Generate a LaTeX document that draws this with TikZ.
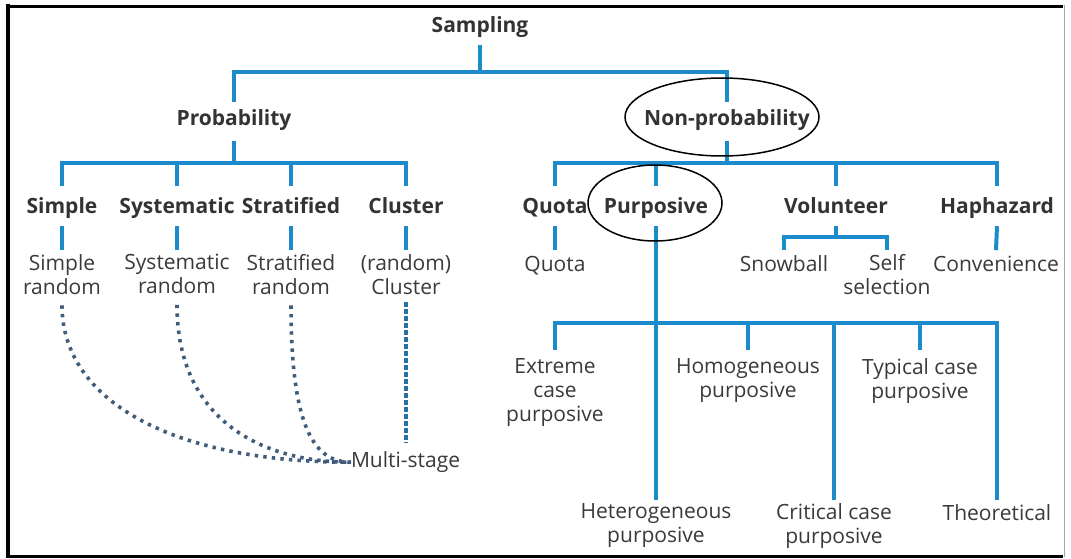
\documentclass[tikz,border=0pt]{standalone}
\usepackage{fontspec}
\setmainfont{Open Sans}
\usetikzlibrary{calc,shapes.geometric}
\definecolor{treeblue}{RGB}{28,139,204}
\definecolor{inkgray}{RGB}{58,58,58}
\definecolor{dotblue}{RGB}{64,92,122}
\definecolor{clusterblue}{RGB}{40,112,165}
\begin{document}
\begin{tikzpicture}[x=1pt,y=-1pt,
  txt/.style={inner sep=0pt, outer sep=0pt, text=inkgray, align=center,
    font=\fontsize{21}{24}\selectfont,
    execute at begin node=\strut, execute at end node=\strut},
  hd/.style={txt, font=\fontsize{21}{24}\selectfont\bfseries, text=black!80},
  oneline/.style={anchor=base},
  twoline/.style={anchor=north},
  tree/.style={draw=treeblue, line width=4pt, line join=miter},
  dotline/.style={draw=dotblue, line width=3.6pt, dash pattern=on 3.4pt off 5.2pt},
  clusterline/.style={draw=clusterblue, line width=4pt, dash pattern=on 4.5pt off 2.5pt},
  ring/.style={draw=black, line width=1.5pt, ellipse, inner sep=0pt}
]
% canvas and frame
\useasboundingbox (0,0) rectangle (1071,559);
\fill[white] (0,0) rectangle (1071,559);
\draw[black, line width=4pt] (8,4.5) -- (8,557.5);
\draw[black, line width=3pt] (6,6.5) -- (1063,6.5);
\draw[black, line width=3pt] (6,556) -- (1063,556);
\draw[black!35, line width=1pt] (1064,5) -- (1064,557);

% bar levels of the tree
\coordinate (bar1) at (0,72.5);
\coordinate (bar2) at (0,163);
\coordinate (bar3) at (0,237);
\coordinate (bar4) at (0,323);

% headings
\node[hd,oneline] (samp)    at (480,33)  {Sampling};
\node[hd,oneline] (prob)    at (234,126) {Probability};
\node[hd,oneline] (nonprob) at (727,126) {Non-probability};

\node[hd,oneline] (simple) at (62,213)  {Simple};
\node[hd,oneline] (syst)   at (177,213) {Systematic};
\node[hd,oneline] (strat)  at (291,213) {Stratified};
\node[hd,oneline] (clus)   at (406,213) {Cluster};

\node[hd,oneline] (quota) at (555,213) {Quota};
\node[hd,oneline] (purp)  at (656,213) {Purposive};
\node[hd,oneline] (vol)   at (836,213) {Volunteer};
\node[hd,oneline] (hap)   at (997,213) {Haphazard};

% sampling methods
\node[txt,twoline] (sr)   at (62,254.2)  {Simple\\random};
\node[txt,twoline] (sysr) at (177,254.2) {Systematic\\random};
\node[txt,twoline] (strr) at (291,254.2) {Stratified\\random};
\node[txt,twoline] (clr)  at (406,254.2) {(random)\\Cluster};

\node[txt,oneline] (quota2) at (555,271) {Quota};
\node[txt,oneline] (snow)   at (784,271) {Snowball};
\node[txt,twoline] (self)   at (887,254.2) {Self\\selection};
\node[txt,oneline] (conv)   at (996,271) {Convenience};

\node[txt,twoline] (ext)  at (555,358.2) {Extreme\\case\\purposive};
\node[txt,twoline] (homo) at (748,358.2) {Homogeneous\\purposive};
\node[txt,twoline] (typ)  at (920,358.2) {Typical case\\purposive};

\node[txt,twoline] (het)  at (656,503.2) {Heterogeneous\\purposive};
\node[txt,twoline] (crit) at (834,503.2) {Critical case\\purposive};
\node[txt,oneline] (theo) at (997,520)   {Theoretical};

\node[txt,anchor=base west] (ms) at (351,467) {Multi-stage};

% top levels
\draw[tree] ([yshift=-5pt]samp.south) -- (samp.south |- bar1);
\draw[tree] ([yshift=7pt]prob.north) |- (nonprob.north |- bar1) -- ([yshift=7pt]nonprob.north);

% probability branch
\draw[tree] ([yshift=-8pt]prob.south) -- (prob.south |- bar2);
\draw[tree] ([yshift=10pt]simple.north) |- (clus.north |- bar2) -- ([yshift=10pt]clus.north);
\draw[tree] ([yshift=10pt]syst.north) -- (syst.north |- bar2);
\draw[tree] ([yshift=10pt]strat.north) -- (strat.north |- bar2);
\draw[tree] ([yshift=-6pt]simple.south) -- ([yshift=4pt]sr.north);
\draw[tree] ([yshift=-6pt]syst.south) -- ([yshift=4pt]sysr.north);
\draw[tree] ([yshift=-6pt]strat.south) -- ([yshift=4pt]strr.north);
\draw[tree] ([yshift=-6pt]clus.south) -- ([yshift=4pt]clr.north);

% non-probability branch
\draw[tree] ([yshift=-8pt]nonprob.south) -- (nonprob.south |- bar2);
\draw[tree] ([yshift=10pt]quota.north) |- (hap.north |- bar2) -- ([yshift=10pt]hap.north);
\draw[tree] ([yshift=10pt]purp.north) -- (purp.north |- bar2);
\draw[tree] ([yshift=10pt]vol.north) -- (vol.north |- bar2);
\draw[tree] ([yshift=-6pt]quota.south) -- ([yshift=4pt]quota2.north);
\draw[tree] ([yshift=-6pt]hap.south) -- ([yshift=4pt]conv.north);
\draw[tree] ([yshift=-6pt]vol.south) -- (vol.south |- bar3);
\draw[tree] ([yshift=4pt]snow.north) |- (self.north |- bar3) -- ([yshift=4pt]self.north);

% purposive sub-types
\draw[tree] ([yshift=-6pt]purp.south) -- ([yshift=3pt]het.north);
\draw[tree] ([yshift=8pt]ext.north) |- (theo.north |- bar4) -- ([yshift=3pt]theo.north);
\draw[tree] ([yshift=8pt]homo.north) -- (homo.north |- bar4);
\draw[tree] ([yshift=8pt]typ.north) -- (typ.north |- bar4);
\draw[tree] ([yshift=3pt]crit.north) -- (crit.north |- bar4);

% multi-stage links
\draw[dotline] ([yshift=-4pt]sr.south) .. controls +(0,94) and +(-181,0) .. (ms.west);
\draw[dotline] ([yshift=-4pt]sysr.south) .. controls +(0,114) and +(-91,0) .. (ms.west);
\draw[dotline] ([yshift=-4pt]strr.south) .. controls +(0,124) and +(-36,0) .. (ms.west);
\draw[clusterline] ([yshift=-1pt]clr.south) -- ($(clr.south |- ms.north)+(0,-7)$);

% highlight rings
\node[ring, minimum width=194pt, minimum height=78pt] (npring) at (722,117) {};
\node[ring, minimum width=134pt, minimum height=76pt] (purpring) at (655,203) {};
\end{tikzpicture}
\end{document}
